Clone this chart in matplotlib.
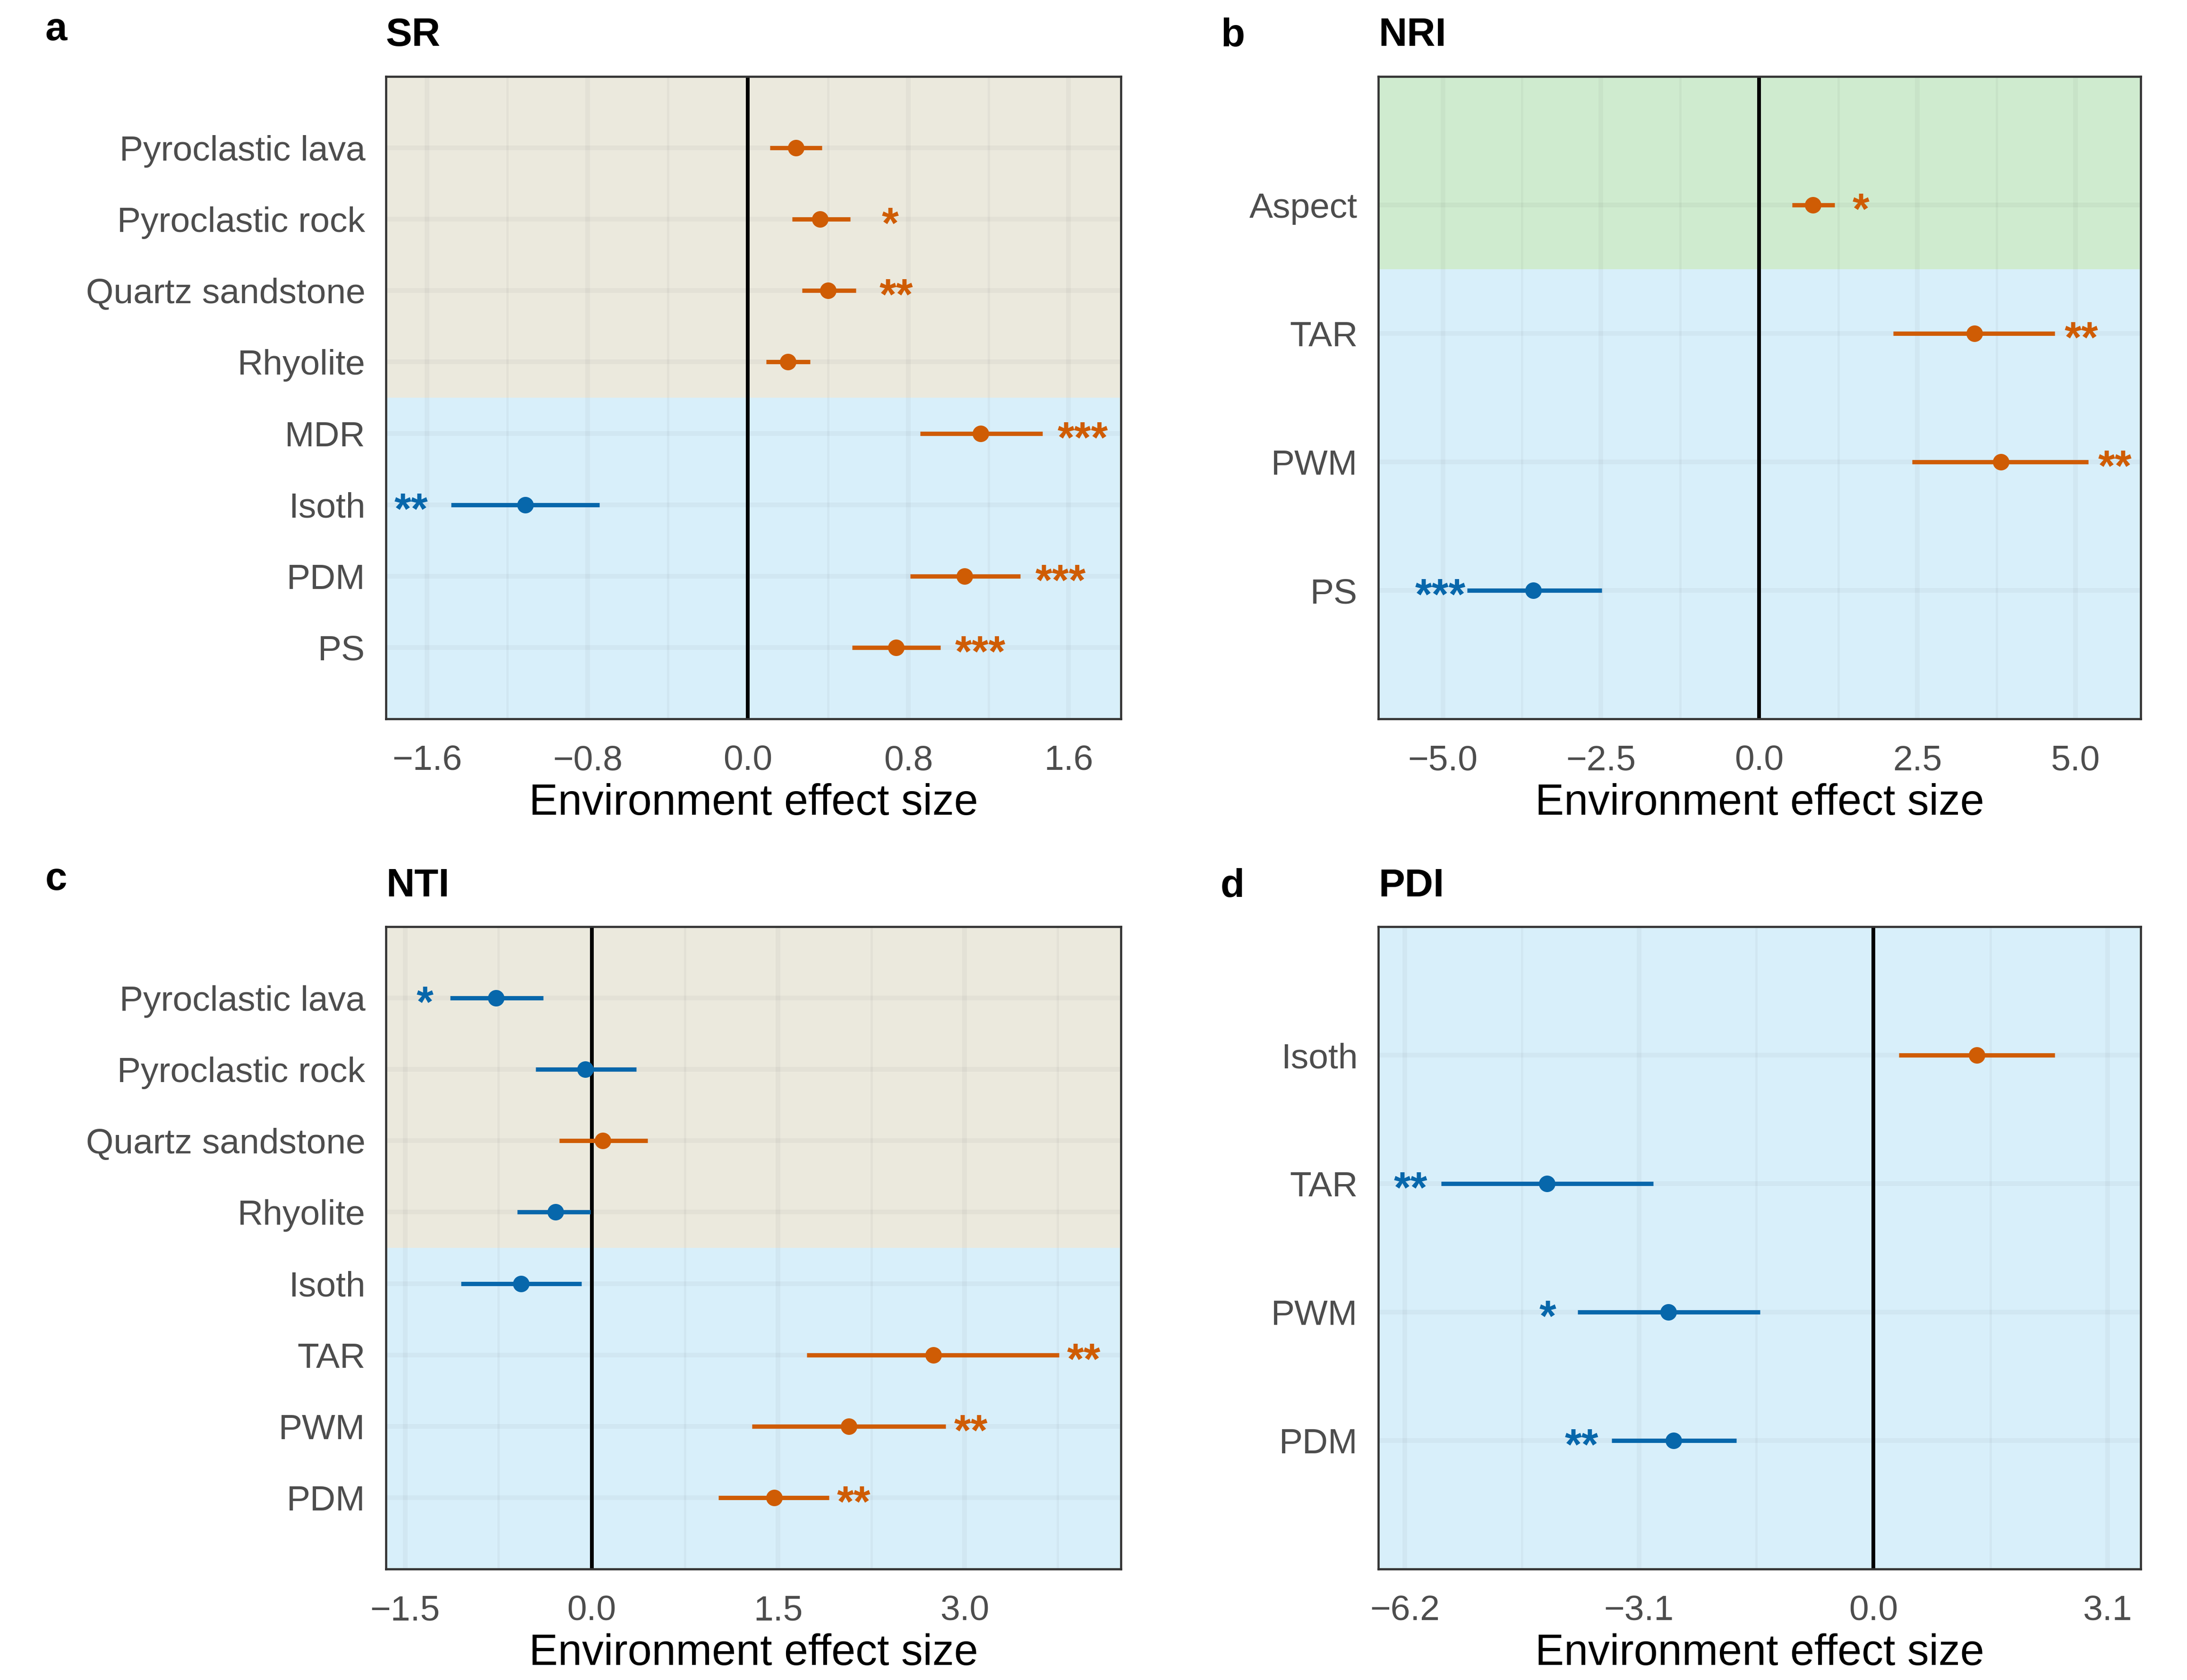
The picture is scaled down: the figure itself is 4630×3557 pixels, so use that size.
import numpy as np
import matplotlib.pyplot as plt

plt.rcParams['font.family'] = ['Liberation Sans', 'DejaVu Sans']

ORANGE = '#CF5C04'
BLUE = '#0767AB'
BEIGE = '#EBE9DD'
SKY = '#D8EFFA'
GREEN = '#CFEBCF'

# a - SR
sr_labels = ["Pyroclastic lava", "Pyroclastic rock", "Quartz sandstone", "Rhyolite",
             "MDR", "Isoth", "PDM", "PS"]
sr_est = [0.24, 0.36, 0.40, 0.20, 1.16, -1.11, 1.08, 0.74]
sr_lo = [0.11, 0.22, 0.27, 0.09, 0.86, -1.48, 0.81, 0.52]
sr_hi = [0.37, 0.51, 0.54, 0.31, 1.47, -0.74, 1.36, 0.96]
sr_sig = ["", "*", "**", "", "***", "**", "***", "***"]

# b - NRI
nri_labels = ["Aspect", "TAR", "PWM", "PS"]
nri_est = [0.85, 3.40, 3.82, -3.57]
nri_lo = [0.52, 2.12, 2.42, -4.62]
nri_hi = [1.19, 4.67, 5.20, -2.49]
nri_sig = ["*", "**", "**", "***"]

# c - NTI
nti_labels = ["Pyroclastic lava", "Pyroclastic rock", "Quartz sandstone", "Rhyolite",
              "Isoth", "TAR", "PWM", "PDM"]
nti_est = [-0.77, -0.05, 0.09, -0.29, -0.57, 2.75, 2.07, 1.47]
nti_lo = [-1.14, -0.45, -0.26, -0.60, -1.05, 1.73, 1.29, 1.02]
nti_hi = [-0.39, 0.36, 0.45, -0.01, -0.08, 3.76, 2.85, 1.91]
nti_sig = ["*", "", "", "", "", "**", "**", "**"]

# d - PDI
pdi_labels = ["Isoth", "TAR", "PWM", "PDM"]
pdi_est = [1.37, -4.32, -2.71, -2.64]
pdi_lo = [0.34, -5.72, -3.91, -3.46]
pdi_hi = [2.40, -2.91, -1.50, -1.81]
pdi_sig = ["", "**", "*", "**"]

W, H = 4630, 3557
fig = plt.figure(figsize=(W / 300, H / 300), dpi=300)


def fmt(v):
    return f"{v:.1f}".replace('-', '\u2212')


def panel(rect, labels, est, lo, hi, sig, spans, xlim, major, minor, star_off):
    ax = fig.add_axes(rect)
    n = len(labels)
    y = np.arange(n)
    # background bands
    for (a, b, c) in spans:
        ax.axhspan(a, b, color=c, lw=0, zorder=0)
    # grid
    for v in major:
        ax.axvline(v, color='k', alpha=0.03, lw=2.4, zorder=0.5)
    for v in minor:
        ax.axvline(v, color='k', alpha=0.03, lw=1.2, zorder=0.5)
    for yy in y:
        ax.axhline(yy, color='k', alpha=0.03, lw=2.4, zorder=0.5)
    ax.axvline(0, color='black', lw=1.9, zorder=2)
    for i in range(n):
        col = ORANGE if est[i] > 0 else BLUE
        ax.plot([lo[i], hi[i]], [y[i], y[i]], color=col, lw=2.2,
                solid_capstyle='butt', zorder=3)
        ax.plot(est[i], y[i], 'o', color=col, ms=8.4, mec='none', zorder=4)
        if sig[i]:
            sx = hi[i] + star_off if est[i] > 0 else lo[i] - star_off
            ax.annotate(sig[i], xy=(sx, y[i]), xytext=(0, -9.5),
                        textcoords='offset points', ha='center', va='baseline',
                        fontsize=22, fontweight='bold', color=col, zorder=5)
    ax.set_xlim(*xlim)
    ax.set_ylim(n, -1)
    ax.set_yticks(y)
    ax.set_yticklabels(labels)
    ax.set_xticks(major)
    ax.set_xticklabels([fmt(v) for v in major])
    ax.tick_params(axis='both', length=0, labelsize=18, labelcolor='#4D4D4D')
    ax.tick_params(axis='y', pad=10.5)
    ax.tick_params(axis='x', pad=13)
    ax.set_xlabel("Environment effect size", fontsize=22, labelpad=3)
    for s in ax.spines.values():
        s.set_color('#333333')
        s.set_linewidth(1.1)
        s.set_zorder(6)
    return ax


aw = 1556 / W
bw = 1614 / W
ph = 1360 / H
top_b = 1 - 1522 / H
bot_b = 1 - 3322 / H
xa = 817 / W
xb = 2918 / W

panel([xa, top_b, aw, ph], sr_labels, sr_est, sr_lo, sr_hi, sr_sig,
      [(-2, 3.5, BEIGE), (3.5, 10, SKY)], (-1.806, 1.861),
      [-1.6, -0.8, 0.0, 0.8, 1.6], [-1.2, -0.4, 0.4, 1.2], 0.2)
panel([xb, top_b, bw, ph], nri_labels, nri_est, nri_lo, nri_hi, nri_sig,
      [(-2, 0.5, GREEN), (0.5, 10, SKY)], (-6.02, 6.03),
      [-5.0, -2.5, 0.0, 2.5, 5.0], [-3.75, -1.25, 1.25, 3.75], 0.42)
panel([xa, bot_b, aw, ph], nti_labels, nti_est, nti_lo, nti_hi, nti_sig,
      [(-2, 3.5, BEIGE), (3.5, 10, SKY)], (-1.655, 4.258),
      [-1.5, 0.0, 1.5, 3.0], [-0.75, 0.75, 2.25, 3.75], 0.2)
panel([xb, bot_b, bw, ph], pdi_labels, pdi_est, pdi_lo, pdi_hi, pdi_sig,
      [(-2, 10, SKY)], (-6.55, 3.54),
      [-6.2, -3.1, 0.0, 3.1], [-4.65, -1.55, 1.55], 0.4)

# titles and panel letters
for x, y, t in [(xa, 1 - 97 / H, "SR"), (xb, 1 - 97 / H, "NRI"),
                (xa, 1 - 1898 / H, "NTI"), (xb, 1 - 1898 / H, "PDI")]:
    fig.text(x, y, t, fontsize=20, fontweight='bold', ha='left', va='baseline')
for x, y, t in [(96 / W, 1 - 85 / H, "a"), (2584 / W, 1 - 97 / H, "b"),
                (96 / W, 1 - 1884 / H, "c"), (2584 / W, 1 - 1898 / H, "d")]:
    fig.text(x, y, t, fontsize=20, fontweight='bold', ha='left', va='baseline')

fig.savefig("out.png", dpi=300, facecolor='white')
